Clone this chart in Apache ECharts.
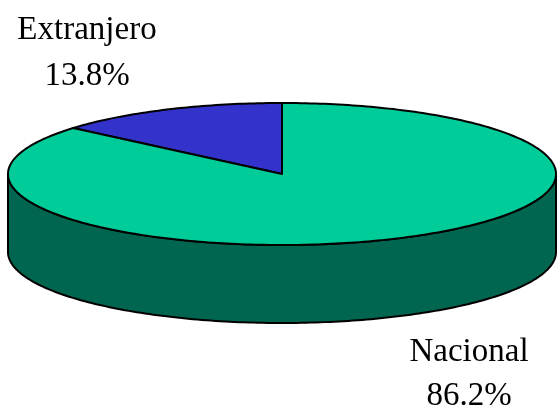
<!DOCTYPE html>
<html>
<head>
<meta charset="utf-8">
<script src="https://cdn.jsdelivr.net/npm/echarts@6/dist/echarts.min.js"></script>
<style>
html,body{margin:0;padding:0;background:#fff;}
#chart{width:557px;height:412px;}
</style>
</head>
<body>
<div id="chart"></div>
<script>
// Data
const categories = ['Extranjero', 'Nacional'];
const values = [13.8, 86.2];
const topColors = ['#3333CC', '#00CC99'];
const sideColors = ['#1A1A66', '#006650'];

const total = values.reduce((a, b) => a + b, 0);
const starts = [];
let acc = 0;
values.forEach(v => { starts.push(acc); acc += v; });

// Geometry of the 3D ellipse
const CX = 282, CY = 174, RX = 274, RY = 71, DEPTH = 78;
const START_DEG = 90; // top, going counter-clockwise

function pt(deg, dy) {
  const r = deg * Math.PI / 180;
  return [CX + RX * Math.cos(r), CY - RY * Math.sin(r) + (dy || 0)];
}
function arc(a0, a1, dy) {
  const pts = [];
  const n = Math.max(2, Math.ceil(Math.abs(a1 - a0) / 1));
  for (let i = 0; i <= n; i++) pts.push(pt(a0 + (a1 - a0) * i / n, dy));
  return pts;
}

function renderItem(params, api) {
  const v = api.value(0);
  const s = api.value(1);
  const a0 = START_DEG + s / total * 360;
  const a1 = START_DEG + (s + v) / total * 360;
  const i = params.dataIndex;
  const children = [];
  [[180, 360], [540, 720]].forEach(([f0, f1]) => {
    const b0 = Math.max(a0, f0), b1 = Math.min(a1, f1);
    if (b1 > b0) {
      const top = arc(b0, b1, 0);
      const bot = arc(b1, b0, DEPTH);
      children.push({
        type: 'polygon', z2: 1,
        shape: { points: top.concat(bot) },
        style: { fill: sideColors[i], stroke: '#000', lineWidth: 2, lineJoin: 'round' }
      });
    }
  });
  const face = [[CX, CY]].concat(arc(a0, a1, 0));
  children.push({
    type: 'polygon', z2: 10,
    shape: { points: face },
    style: { fill: topColors[i], stroke: '#000', lineWidth: 2, lineJoin: 'round' }
  });
  return { type: 'group', children: children };
}

// label anchor: [centerX, topY, lineHeight]
const labelPos = [[87, 7, 46], [469, 330, 44]];

const chart = echarts.init(document.getElementById('chart'), null, { renderer: 'canvas' });
chart.setOption({
  animation: false,
  backgroundColor: '#fff',
  series: [{
    type: 'custom',
    coordinateSystem: 'none',
    renderItem: renderItem,
    data: values.map((v, i) => [v, starts[i]]),
    label: { show: false }
  }],
  graphic: categories.map((c, i) => ({
    type: 'text',
    x: labelPos[i][0],
    y: labelPos[i][1],
    style: {
      text: c + '\n' + values[i].toFixed(1) + '%',
      fill: '#000',
      font: '33px "Liberation Serif"',
      lineHeight: labelPos[i][2],
      align: 'center',
      verticalAlign: 'top'
    }
  }))
});
</script>
</body>
</html>
